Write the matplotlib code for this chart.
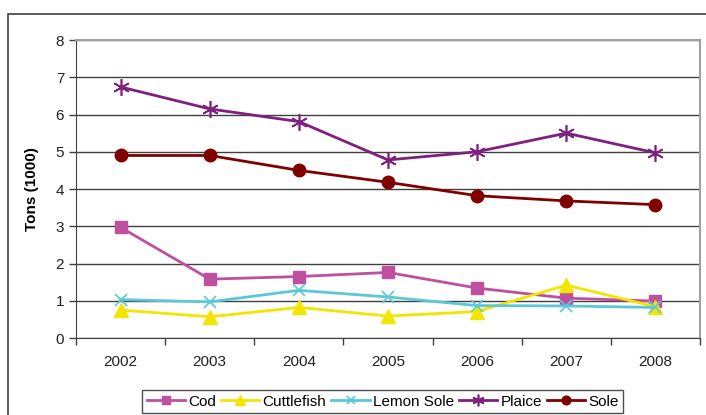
import matplotlib.pyplot as plt
from matplotlib.patches import Rectangle

plt.rcParams['font.family'] = ['Liberation Sans', 'DejaVu Sans']

years = ['2002', '2003', '2004', '2005', '2006', '2007', '2008']
cod = [2.97, 1.58, 1.65, 1.76, 1.34, 1.07, 0.99]
cuttlefish = [0.75, 0.57, 0.82, 0.59, 0.71, 1.42, 0.84]
lemon_sole = [1.03, 0.97, 1.28, 1.10, 0.87, 0.86, 0.82]
plaice = [6.74, 6.15, 5.81, 4.78, 5.00, 5.50, 4.97]
sole = [4.90, 4.90, 4.50, 4.18, 3.82, 3.68, 3.58]

fig = plt.figure(figsize=(7.06, 4.15), dpi=100)
ax = fig.add_axes([76/706, 1-338/415, 624/706, 298/415])

# outer chart border (only left and top are visible)
fig.patches.append(Rectangle((8/706, -0.2), 1.2, 1-14/415+0.2, transform=fig.transFigure,
                             fill=False, edgecolor='#404040', lw=1.2, clip_on=False))

x = list(range(len(years)))
ax.plot(x, cod, color='#BF4FA0', lw=2, marker='s', ms=9, label='Cod')
ax.plot(x, cuttlefish, color='#F2E600', lw=2, marker='^', ms=10, label='Cuttlefish')
ax.plot(x, lemon_sole, color='#5BC8D8', lw=2, marker='x', ms=9, mew=1.2, label='Lemon Sole')
ax.plot(x, plaice, color='#7F1F7F', lw=2, marker=(6, 2, 0), ms=12, mew=1.2, label='Plaice')
ax.plot(x, sole, color='#800000', lw=2, marker='o', ms=9, label='Sole')

ax.set_xlim(-0.5, len(years) - 0.5)
ax.set_ylim(0, 8)
ax.set_yticks(range(0, 9))
ax.set_xticks(x)
ax.set_xticklabels(years)
ax.set_xticks([i - 0.5 for i in range(len(years) + 1)], minor=True)
ax.tick_params(axis='x', which='major', length=0, pad=12, labelsize=11, labelcolor='#202020')
ax.tick_params(axis='x', which='minor', length=5, width=1, color='#404040')
ax.tick_params(axis='y', length=5, width=1, color='#404040', labelsize=11, labelcolor='#202020')

ax.yaxis.grid(True, color='#404040', lw=1)
ax.set_axisbelow(True)
for s in ['left', 'bottom']:
    ax.spines[s].set_color('#404040')
for s in ['top', 'right']:
    ax.spines[s].set_color('#a0a0a0')
    ax.spines[s].set_linewidth(1.5)

ax.set_ylabel('Tons (1000)', fontsize=11, fontweight='bold', labelpad=12)

leg = fig.legend(loc='upper left', bbox_to_anchor=(142/706, 1-390/415), ncol=5,
                 frameon=True, fancybox=False, edgecolor='#202020', fontsize=11,
                 handlelength=2.5, handletextpad=0.2, columnspacing=0.35, borderpad=0.3,
                 borderaxespad=0, markerscale=0.7)
leg.get_frame().set_linewidth(1)

fig.savefig('out.png', dpi=100)
